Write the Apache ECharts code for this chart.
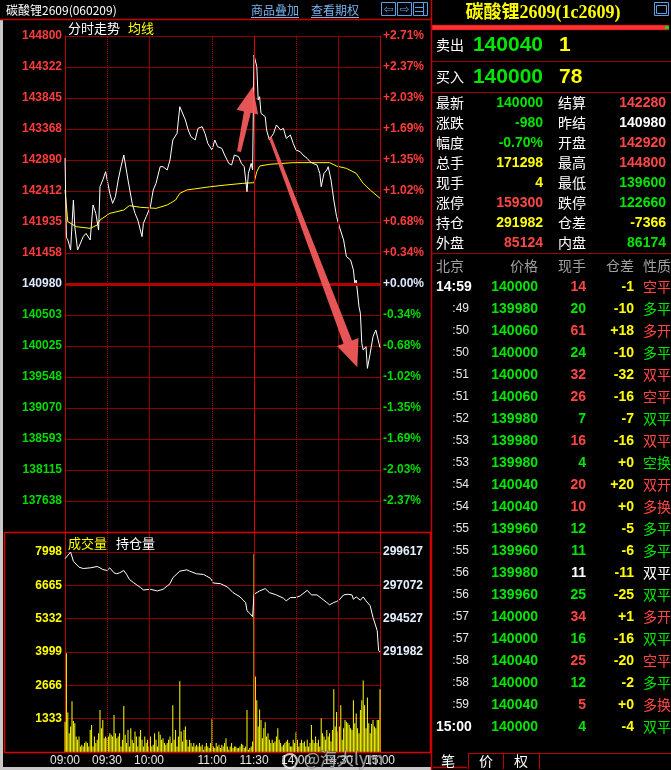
<!DOCTYPE html>
<html><head><meta charset="utf-8">
<script src="https://cdn.jsdelivr.net/npm/echarts@6/dist/echarts.min.js"></script>
<style>html,body{margin:0;padding:0;background:#000;overflow:hidden}#c{width:671px;height:770px}</style>
</head><body><div id="c"></div>
<script>
// ---------------- DATA ----------------
const contractName = '碳酸锂2609(060209)';
const panelTitle = '碳酸锂2609(1c2609)';
const prevSettle = 140980;
const priceStep = 477.5;
const priceLabels = ['', '137638','138115','138593','139070','139548','140025','140503','140980','141458','141935','142412','142890','143368','143845','144322','144800'];
const pctLabels = ['', '-2.37%','-2.03%','-1.69%','-1.35%','-1.02%','-0.68%','-0.34%','+0.00%','+0.34%','+0.68%','+1.02%','+1.35%','+1.69%','+2.03%','+2.37%','+2.71%'];
const volStep = 1333;
const volLabels = ['', '1333','2666','3999','5332','6665','7998'];
const oiBase = 291982;
const oiStep = 2545;
const oiLabels = ['', '', '', '291982','294527','297072','299617'];
const tickMinutes = [0,30,60,105,135,165,195,225];
const tickLabels = ['09:00','09:30','10:00','11:00','11:30','14:00','14:30','15:00'];
const solidMinutes = [60,135,195];
const dottedMinutes = [30,105,165];

const priceMin = [0,1,2,4,6,7,9,13,15,18,20,22,24,25,27,29,32,34,36,38,40,42,45,48,50,52,55,56,58,61,63,65,68,70,73,75,77,80,82,83,86,88,90,93,95,98,100,102,105,107,109,112,114,117,119,121,124,126,128,130,131,133,134,135,137,138,139,140,143,144,146,149,151,154,156,158,161,163,165,168,170,173,175,177,180,182,183,185,187,188,190,192,194,196,199,201,204,206,207,208,210,211,212,213,215,216,218,220,222,225];
const priceVal = [142920,141700,141660,141504,142274,141863,141504,141709,141760,141658,142197,142068,141812,142479,142582,142710,142376,142222,142325,142582,142787,142967,142582,142222,142068,141966,141709,141914,142017,142171,142428,142530,142787,142787,142736,142890,143198,143300,143711,143660,143506,143352,143249,143198,143378,143403,143300,143146,143044,143198,143095,143070,142967,142838,142813,142967,142941,142838,142787,142402,142684,142838,142736,144507,144327,143814,143865,143609,143557,143352,143198,143300,143429,143352,143378,143224,143275,143146,143044,143018,142967,142915,142864,142838,142813,142684,142479,142684,142736,142787,142582,142274,142017,141863,141658,141401,141350,141196,140990,141042,140631,140528,140066,139964,140015,139681,139913,140169,140272,140000];

const avgMin = [0,2,8,18,23,25,32,42,46,54,65,73,79,82,87,104,115,127,135,137,139,146,163,189,194,201,208,213,218,225];
const avgVal = [142428,141940,141863,141837,141889,141966,142068,142120,142187,142161,142145,142197,142274,142376,142428,142479,142505,142530,142541,142710,142797,142823,142849,142849,142797,142761,142684,142530,142428,142300];

const volumes = [1214,3947,1584,752,1016,2033,1241,1148,620,488,
620,224,290,224,356,422,356,224,884,1082,
224,620,356,488,752,1676,950,1280,554,620,
554,620,752,686,620,1478,752,554,620,752,
224,488,1835,686,356,884,224,950,488,356,
818,620,224,620,884,488,224,620,356,488,
224,620,224,290,752,488,224,818,686,488,
554,356,290,356,488,620,356,1874,488,884,
224,620,2825,818,422,884,1016,488,224,488,
356,224,356,224,290,224,356,224,290,92,
224,356,224,158,356,1320,224,158,356,224,
290,158,290,224,356,554,224,92,224,356,
158,224,224,158,158,224,330,290,158,224,
1676,92,158,224,422,7920,3023,2072,1016,1703,
1280,554,950,1188,620,752,488,356,488,356,
422,620,950,488,356,224,290,356,422,488,
356,224,224,488,356,792,488,224,356,488,
356,422,224,488,224,356,1082,488,356,620,
356,488,224,1346,752,620,488,884,620,752,
422,884,2508,1016,1597,818,1016,1874,488,950,
1280,1214,1148,1082,950,884,2072,1148,1544,950,
752,1676,2072,2864,1874,950,2178,1148,752,1122,
1280,1016,950,1280,1280,2508];

const oiMin = [0,1,4,6,10,13,18,23,25,27,30,32,35,37,39,42,44,46,49,54,56,61,66,70,73,75,77,82,87,89,94,99,104,106,111,116,120,125,129,130,132,134,135,139,143,146,151,156,158,161,165,168,173,176,180,183,187,189,192,194,196,199,202,205,206,208,211,213,215,218,220,223,224,225];
const oiVal = [299100,299163,299617,298911,298458,298357,298407,298508,298407,298281,298206,298407,298029,297954,298029,298206,297903,297525,297273,296895,296719,296769,296643,296769,297021,297198,297651,298155,298256,298155,297954,297903,297601,297248,297198,296945,296517,296190,295761,295131,294930,294678,296391,296643,296820,296517,296341,296089,295887,296139,296139,296265,296694,296341,296341,296089,295761,295585,295761,295837,295963,296341,296391,296341,296013,296190,295938,296190,295887,295509,294627,293619,292107,291982];

// arrow annotations in data coordinates [minute, price]
const arrowFrom = [[124.3,143018],[146.4,143249]];
const arrowTo = [[134.1,144019],[208.8,139697]];

// quote panel
const askPrice = '140040', askVol = '1', bidPrice = '140000', bidVol = '78';
const statLabelL = ['最新','涨跌','幅度','总手','现手','涨停','持仓','外盘'];
const statValueL = ['140000','-980','-0.70%','171298','4','159300','291982','85124'];
const statColorL = ['g','g','g','y','y','r','y','r'];
const statLabelR = ['结算','昨结','开盘','最高','最低','跌停','仓差','内盘'];
const statValueR = ['142280','140980','142920','144800','139600','122660','-7366','86174'];
const statColorR = ['r','w','r','r','g','g','y','g'];

const tradeHeader = ['北京','价格','现手','仓差','性质'];
const tradeTime = ['14:59',':49',':50',':50',':51',':51',':52',':53',':53',':54',':54',':55',':55',':56',':56',':57',':57',':58',':58',':59','15:00'];
const tradePrice = ['140000','139980','140060','140000','140000','140060','139980','139980','139980','140040','140040','139960','139960','139980','139960','140000','140000','140040','140000','140040','140000'];
const tradeVol = ['14','20','61','24','32','26','7','16','4','20','10','12','11','11','25','34','16','25','12','5','4'];
const tradeOi = ['-1','-10','+18','-10','-32','-16','-7','-16','+0','+20','+0','-5','-6','-11','-25','+1','-16','-20','-2','+0','-4'];
const tradeType = ['空平','多平','多开','多平','双平','空平','双平','双平','空换','双开','多换','多平','多平','双平','双平','多开','双平','空平','多平','多换','双平'];
const tradeColor = ['r','g','r','g','r','r','g','r','g','r','r','g','g','w','g','r','g','r','g','r','g'];
const tabLabels = ['笔','价','权'];

// ---------------- STYLE ----------------
const COL = {r:'#ff4646', g:'#00e600', w:'#ffffff', y:'#ffff00'};
const NUM = '"Liberation Sans", Arial, sans-serif';
const CJK = '"Noto Sans CJK SC", sans-serif';
const GRID = '#8c0000';
const BORDER = '#c80000';

const pricePairs = priceMin.map((m,i)=>[m, priceVal[i]-prevSettle]);
const avgPairs = avgMin.map((m,i)=>[m, avgVal[i]-prevSettle]);
const volPairs = volumes.map((v,i)=>[i, v]);
const oiPairs = oiMin.map((m,i)=>[m, oiVal[i]-oiBase]);

function priceIdx(v){ return Math.round((Number(v) + 8*priceStep)/priceStep); }
function priceColor(v){ const i = priceIdx(v); return i>8 ? '#ff3c3c' : (i===8 ? '#dce8ff' : '#00dc00'); }

const vLines = (colorMid) => solidMinutes.map(m=>({xAxis:m, lineStyle:{type:'solid', color: m===135?colorMid:GRID, width:1}}))
  .concat(dottedMinutes.map(m=>({xAxis:m, lineStyle:{type:'dotted', color:'#b00000', width:1}})));

const chart = echarts.init(document.getElementById('c'), null, {renderer:'canvas', width:671, height:770});

const option = {
  backgroundColor:'#000',
  animation:false,
  grid:[
    {left:65, top:36, width:315, height:496},
    {left:65, top:532, width:315, height:220}
  ],
  xAxis:[
    {type:'value', gridIndex:0, min:0, max:225, interval:15, show:false},
    {type:'value', gridIndex:1, min:0, max:225, interval:15,
      axisLine:{show:false}, axisTick:{show:false}, splitLine:{show:false},
      axisLabel:{show:true, margin:3, color:'#e8e8e8', fontSize:12, fontFamily:NUM,
        formatter:v=>{const i=tickMinutes.indexOf(Math.round(v)); return i>=0?tickLabels[i]:'';}}}
  ],
  yAxis:[
    {type:'value', gridIndex:0, position:'left', min:-8*priceStep, max:8*priceStep, interval:priceStep,
      axisLine:{show:true, lineStyle:{color:BORDER, width:1}}, axisTick:{show:false},
      splitLine:{show:true, lineStyle:{color:GRID, width:1}},
      axisLabel:{margin:3, fontSize:12, fontWeight:'bold', fontFamily:NUM,
        color:v=>priceColor(v), formatter:v=>priceLabels[priceIdx(v)]||''}},
    {type:'value', gridIndex:0, position:'right', min:-8*priceStep, max:8*priceStep, interval:priceStep,
      axisLine:{show:true, lineStyle:{color:BORDER, width:1}}, axisTick:{show:false},
      splitLine:{show:false},
      axisLabel:{margin:3, fontSize:12, fontWeight:'bold', fontFamily:NUM,
        color:v=>priceColor(v), formatter:v=>pctLabels[priceIdx(v)]||''}},
    {type:'value', gridIndex:1, position:'left', min:0, max:6.6*volStep, interval:volStep,
      axisLine:{show:true, lineStyle:{color:BORDER, width:1}}, axisTick:{show:false},
      splitLine:{show:true, lineStyle:{color:GRID, width:1}},
      axisLabel:{margin:3, fontSize:12, fontWeight:'bold', fontFamily:NUM, color:'#ffff00',
        formatter:v=>volLabels[Math.round(Number(v)/volStep)]||''}},
    {type:'value', gridIndex:1, position:'right', min:-3*oiStep, max:3.6*oiStep, interval:oiStep,
      axisLine:{show:true, lineStyle:{color:BORDER, width:1}}, axisTick:{show:false},
      splitLine:{show:false},
      axisLabel:{margin:3, fontSize:12, fontWeight:'bold', fontFamily:NUM, color:'#e6f0ff',
        formatter:v=>oiLabels[Math.round(Number(v)/oiStep)+3]||''}}
  ],
  series:[
    {type:'line', xAxisIndex:0, yAxisIndex:0, data:avgPairs, showSymbol:false, silent:true,
      lineStyle:{color:'#ffff00', width:1}, z:3,
      markLine:{silent:true, symbol:['none','none'], label:{show:false}, animation:false,
        data: vLines('#e00000').concat([{yAxis:0, lineStyle:{type:'solid', color:'#b40000', width:3}}])}},
    {type:'line', xAxisIndex:0, yAxisIndex:0, data:pricePairs, showSymbol:false, silent:true,
      lineStyle:{color:'#ffffff', width:1}, z:4},
    {type:'bar', xAxisIndex:1, yAxisIndex:2, data:volPairs, barWidth:1, silent:true,
      itemStyle:{color:'#ffff00'}, z:3,
      markLine:{silent:true, symbol:['none','none'], label:{show:false}, animation:false, data: vLines('#b40000')}},
    {type:'line', xAxisIndex:1, yAxisIndex:3, data:oiPairs, showSymbol:false, silent:true,
      lineStyle:{color:'#ffffff', width:1}, z:4}
  ]
};
chart.setOption(option);

// ---------------- GRAPHIC (panels, headers, annotations) ----------------
function T(text, x, y, fill, font, align, extra){
  const a = align||'left';
  return {type:'text', z:100, silent:true, style:Object.assign({text, x, y, fill, font, align:a, textAlign:a, verticalAlign:'middle', textVerticalAlign:'middle'}, extra||{})};
}
function L(x1,y1,x2,y2,stroke,w,z){ return {type:'line', z:z==null?90:z, silent:true, shape:{x1,y1,x2,y2}, style:{stroke, lineWidth:w||1}}; }
function R(x,y,w,h,style,z){ return {type:'rect', z:z==null?90:z, silent:true, shape:{x,y,width:w,height:h}, style}; }

const els = [];
els.push(R(431,0,240,770,{fill:'#000'},80));
els.push(R(0,19,3,751,{fill:'#c8c8c8'},80));
els.push(R(0,767,431,3,{fill:'#c8c8c8'},80));
// left header
els.push(T(contractName, 6, 10, '#ffffff', '12px '+CJK));
els.push(T('商品叠加', 251, 10, '#78b4f0', '12px '+CJK));
els.push(L(251,17.5,299,17.5,'#78b4f0',1,100));
els.push(T('查看期权', 311, 10, '#78b4f0', '12px '+CJK));
els.push(L(311,17.5,359,17.5,'#78b4f0',1,100));
[381,397,413].forEach(x=>els.push(R(x+0.5,2.5,14,13,{fill:'none', stroke:'#5aa0e6', lineWidth:1},100)));
els.push(T('⇦', 388.5, 9.5, '#5aa0e6', '12px "DejaVu Sans"', 'center'));
els.push(T('⇨', 404.5, 9.5, '#5aa0e6', '12px "DejaVu Sans"', 'center'));
els.push(L(423.5,3,423.5,15,'#5aa0e6',1,100));
els.push(L(415,7.5,423,7.5,'#5aa0e6',1,100));
els.push(L(415,11.5,423,11.5,'#5aa0e6',1,100));
// main panel borders
els.push(L(0,19.5,431,19.5,BORDER,1.5));
els.push(L(431.5,0,431.5,770,BORDER,1.5));
els.push(T('分时走势', 68, 28, '#ffffff', '13px '+CJK));
els.push(T('均线', 128, 28, '#ffff00', '13px '+CJK));
// volume box
els.push(R(4.5,532.5,426,220,{fill:'none', stroke:'#dc0000', lineWidth:1.5},95));
els.push(T('成交量', 68, 543, '#ffff00', '13px '+CJK));
els.push(T('持仓量', 116, 543, '#ffffff', '13px '+CJK));
// watermark
els.push({type:'circle', z:101, silent:true, shape:{cx:290, cy:761, r:7}, style:{fill:'none', stroke:'rgba(255,255,255,0.75)', lineWidth:2}});
els.push(T('@海大lym', 304, 759, 'rgba(255,255,255,0.55)', '17px '+CJK, 'left', {stroke:'rgba(60,60,60,0.6)', lineWidth:1}));

// right panel
els.push(T(panelTitle, 543, 13, '#ffff00', 'bold 18px "Liberation Serif", "Noto Sans CJK SC", serif', 'center'));
els.push(R(654.5,2.5,14,13,{fill:'none', stroke:'#5aa0e6', lineWidth:1},100));
els.push(R(656.5,5.5,10,8,{fill:'none', stroke:'#5aa0e6', lineWidth:1},100));
els.push(R(432,25,237,5,{fill:'#ff3030', stroke:'#a00000', lineWidth:0.5},100));
els.push(R(665,26,4,3,{fill:'#00e000'},101));
els.push(T('卖出', 436, 45, '#ffffff', '14px '+CJK));
els.push(T(askPrice, 543, 45, COL.g, 'bold 21px '+NUM, 'right'));
els.push(T(askVol, 559, 45, COL.y, 'bold 21px '+NUM));
els.push(L(432,61.5,671,61.5,'#a00000',1));
els.push(T('买入', 436, 77, '#ffffff', '14px '+CJK));
els.push(T(bidPrice, 543, 77, COL.g, 'bold 21px '+NUM, 'right'));
els.push(T(bidVol, 559, 77, COL.y, 'bold 21px '+NUM));
els.push(L(432,92.5,671,92.5,'#a00000',1));
statLabelL.forEach((lab,i)=>{
  const y = 103 + 20*i;
  els.push(T(lab, 436, y, '#ffffff', '14px '+CJK));
  els.push(T(statValueL[i], 543, y, COL[statColorL[i]], 'bold 14px '+NUM, 'right'));
  els.push(T(statLabelR[i], 558, y, '#ffffff', '14px '+CJK));
  els.push(T(statValueR[i], 666, y, COL[statColorR[i]], 'bold 14px '+NUM, 'right'));
});
els.push(L(432,253.5,671,253.5,'#a00000',1));
els.push(T(tradeHeader[0], 436, 266, '#a0a0a0', '14px '+CJK));
els.push(T(tradeHeader[1], 538, 266, '#a0a0a0', '14px '+CJK, 'right'));
els.push(T(tradeHeader[2], 586, 266, '#a0a0a0', '14px '+CJK, 'right'));
els.push(T(tradeHeader[3], 634, 266, '#a0a0a0', '14px '+CJK, 'right'));
els.push(T(tradeHeader[4], 643, 266, '#a0a0a0', '14px '+CJK));
tradeTime.forEach((tm,i)=>{
  const y = 287 + 22*i;
  if (tm.charAt(0)===':') els.push(T(tm, 469, y, '#e8e8e8', '12px '+NUM, 'right'));
  else els.push(T(tm, 436, y, '#ffffff', 'bold 14px '+NUM));
  els.push(T(tradePrice[i], 538, y, COL.g, 'bold 14px '+NUM, 'right'));
  els.push(T(tradeVol[i], 586, y, COL[tradeColor[i]], 'bold 14px '+NUM, 'right'));
  els.push(T(tradeOi[i], 634, y, COL.y, 'bold 14px '+NUM, 'right'));
  els.push(T(tradeType[i], 643, y, COL[tradeColor[i]], '14px '+CJK));
});
// tabs
els.push(L(468,753.5,671,753.5,'#c00000',1));
[468.5,503.5,539.5].forEach(x=>els.push(L(x,753,x,769,'#c00000',1)));
els.push(L(433,767.5,467,767.5,'#c00000',1.5));
[[tabLabels[0],448],[tabLabels[1],486],[tabLabels[2],521]].forEach(([t,x])=>els.push(T(t, x, 761, '#ffffff', '14px '+CJK, 'center')));

// arrows from data coordinates
function arrowPts(a, b, tw, nw, hw, hl){
  const dx=b[0]-a[0], dy=b[1]-a[1], len=Math.hypot(dx,dy), ux=dx/len, uy=dy/len, nx=-uy, ny=ux;
  const kx=b[0]-ux*hl, ky=b[1]-uy*hl;
  return [[a[0]+nx*tw/2,a[1]+ny*tw/2],[kx+nx*nw/2,ky+ny*nw/2],[kx+nx*hw/2,ky+ny*hw/2],[b[0],b[1]],
          [kx-nx*hw/2,ky-ny*hw/2],[kx-nx*nw/2,ky-ny*nw/2],[a[0]-nx*tw/2,a[1]-ny*tw/2]];
}
const arrowSizes = [[4,7,22,26],[3,9,23,27]];
arrowFrom.forEach((f,i)=>{
  const a = chart.convertToPixel({xAxisIndex:0, yAxisIndex:0}, [f[0], f[1]-prevSettle]);
  const b = chart.convertToPixel({xAxisIndex:0, yAxisIndex:0}, [arrowTo[i][0], arrowTo[i][1]-prevSettle]);
  const s = arrowSizes[i];
  els.push({type:'polygon', z:60, silent:true, shape:{points:arrowPts(a,b,s[0],s[1],s[2],s[3])}, style:{fill:'#f25a5a', opacity:0.95}});
});

chart.setOption({graphic:{elements:els}});
</script>
</body></html>
